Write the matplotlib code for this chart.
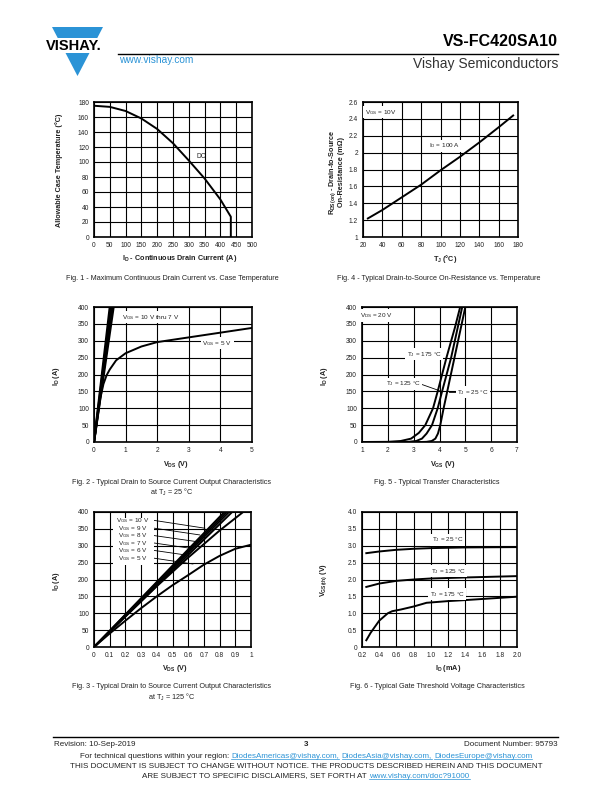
import matplotlib
matplotlib.use('Agg')
import matplotlib.pyplot as plt
from matplotlib.patches import Polygon, Rectangle
from matplotlib.lines import Line2D

plt.rcParams['font.family'] = ['Liberation Sans', 'DejaVu Sans']
plt.rcParams['mathtext.fontset'] = 'custom'
plt.rcParams['mathtext.rm'] = 'Liberation Sans'
plt.rcParams['mathtext.it'] = 'Liberation Sans:italic'
plt.rcParams['mathtext.bf'] = 'Liberation Sans:bold'

W, H = 612, 792
BLUE = '#2b93d6'
TXT = '#222222'

# Fig. 1 - max continuous drain current vs case temperature
f1_id = [0, 50, 100, 150, 200, 250, 300, 350, 400, 433, 433]
f1_tc = [175, 173.5, 168, 158, 144, 125, 102, 78, 50, 27, 0]

# Fig. 4 - on-resistance vs temperature
f4_tj = [25, 40, 60, 80, 100, 120, 140, 160, 175]
f4_rds = [1.22, 1.32, 1.47, 1.62, 1.79, 1.95, 2.12, 2.30, 2.44]

# Fig. 2 - output characteristics, TJ = 25 C
f2_vds_hi = [0, 0.50, 0.54, 0.58, 0.62]   # end points of 10 V .. 7 V lines
f2_vds_5v = [0, 0.1, 0.2, 0.3, 0.4, 0.5, 0.7, 1.0, 1.5, 2, 3, 4, 5]
f2_id_5v = [0, 65, 130, 172, 198, 215, 242, 263, 283, 296, 310, 324, 338]

# Fig. 5 - transfer characteristics
f5_v175 = [1, 2.0, 2.5, 2.9, 3.2, 3.45, 3.75, 3.93, 4.27, 4.6, 4.8]
f5_i175 = [0, 0.5, 3, 10, 27, 50, 100, 150, 250, 340, 400]
f5_v125 = [1, 2.5, 2.8, 3.1, 3.32, 3.5, 3.71, 3.93, 4.10, 4.45, 4.88]
f5_i125 = [0, 0, 0.5, 3, 10, 25, 50, 100, 150, 250, 400]
f5_v25 = [1, 3.3, 3.5, 3.7, 3.84, 3.94, 4.03, 4.16, 4.30, 4.58, 5.0]
f5_i25 = [0, 0, 0.5, 3, 10, 25, 50, 100, 150, 250, 400]

# Fig. 3 - output characteristics, TJ = 125 C
f3_vgs = ['10', '9', '8', '7', '6', '5']
f3_end_v = [0.83, 0.845, 0.86, 0.88]        # 10 V .. 7 V reach 400 A
f3_v6 = [0, 0.2, 0.4, 0.6, 0.8, 0.95]
f3_i6 = [0, 90, 180, 265, 345, 400]
f3_v5 = [0, 0.1, 0.2, 0.3, 0.4, 0.5, 0.6, 0.7, 0.8, 0.9, 1.0]
f3_i5 = [0, 40, 78, 115, 150, 183, 213, 244, 270, 291, 303]

# Fig. 6 - gate threshold voltage
f6_id25 = [0.25, 0.4, 0.6, 0.8, 1.0, 1.4, 2.0]
f6_v25 = [2.78, 2.83, 2.88, 2.91, 2.93, 2.95, 2.96]
f6_id125 = [0.25, 0.4, 0.6, 0.8, 1.0, 1.4, 2.0]
f6_v125 = [1.78, 1.88, 1.96, 2.0, 2.03, 2.06, 2.1]
f6_id175 = [0.25, 0.3, 0.4, 0.5, 0.55, 0.65, 0.8, 0.95, 1.2, 1.4, 2.0]
f6_v175 = [0.2, 0.42, 0.78, 1.0, 1.06, 1.11, 1.2, 1.31, 1.36, 1.39, 1.49]

fig = plt.figure(figsize=(W / 100, H / 100), dpi=100)


def fx(x):
    return x / W


def fy(y):
    return 1 - y / H


def ftext(x, y, s, **kw):
    kw.setdefault('fontsize', 5.2)
    kw.setdefault('color', TXT)
    kw.setdefault('ha', 'center')
    kw.setdefault('va', 'center')
    return fig.text(fx(x), fy(y), s, **kw)


def make_ax(x0, y0, x1, y1, xlim, ylim, xt, yt, xtl=None, ytl=None):
    ax = fig.add_axes([fx(x0), fy(y1), (x1 - x0) / W, (y1 - y0) / H])
    ax.set_xlim(xlim)
    ax.set_ylim(ylim)
    ax.set_xticks(xt)
    ax.set_yticks(yt)
    if xtl is not None:
        ax.set_xticklabels(xtl)
    if ytl is not None:
        ax.set_yticklabels(ytl)
    ax.tick_params(length=0, labelsize=4.8, labelcolor=TXT, pad=3.6)
    ax.grid(True, color='black', linewidth=0.8)
    for sp in ax.spines.values():
        sp.set_linewidth(1.2)
    return ax


def lbl(ax, x, y, s, **kw):
    kw.setdefault('fontsize', 4.6)
    return ax.text(x, y, s, ha='center', va='center', color=TXT,
                   bbox=dict(facecolor='white', edgecolor='none', pad=1.2), zorder=5, **kw)


LW = 1.4

# ---- Fig 1
ax1 = make_ax(94, 102, 252, 237, (0, 500), (0, 180), range(0, 501, 50), range(0, 181, 20))
ax1.plot(f1_id, f1_tc, color='black', lw=LW)
ax1.text(340, 107, 'DC', fontsize=4.8, ha='center', va='center', color=TXT)
ftext(180, 259, r'I$_\mathbf{D}$ - Continuous Drain Current (A)', fontweight='bold')
ftext(59, 170, 'Allowable Case Temperature (°C)', fontweight='bold', rotation=90)
ftext(172, 278, 'Fig. 1 - Maximum Continuous Drain Current vs. Case Temperature')

# ---- Fig 4
ax4 = make_ax(363, 102, 518, 237, (20, 180), (1, 2.6), range(20, 181, 20),
              [1, 1.2, 1.4, 1.6, 1.8, 2, 2.2, 2.4, 2.6],
              ytl=['1', '1.2', '1.4', '1.6', '1.8', '2', '2.2', '2.4', '2.6'])
ax4.plot(f4_tj, f4_rds, color='black', lw=LW)
lbl(ax4, 38, 2.48, r'V$_\mathrm{GS}$ = 10V')
lbl(ax4, 104, 2.08, r'I$_\mathrm{D}$ = 100 A')
ftext(445, 259, r'T$_\mathbf{J}$ (°C)', fontweight='bold')
ftext(336, 172, 'R$_\\mathbf{DS(on)}$ - Drain-to-Source\nOn-Resistance (mΩ)',
      fontweight='bold', rotation=90, linespacing=1.1)
ftext(439, 278, 'Fig. 4 - Typical Drain-to-Source On-Resistance vs. Temperature')

# ---- Fig 2
ax2 = make_ax(94, 307, 252, 442, (0, 5), (0, 400), range(0, 6), range(0, 401, 50))
for v in f2_vds_hi[1:]:
    ax2.plot([0, v], [0, 400], color='black', lw=1.6)
ax2.plot(f2_vds_5v, f2_id_5v, color='black', lw=LW)
lbl(ax2, 1.8, 370, r'V$_\mathrm{GS}$ = 10 V thru 7 V')
lbl(ax2, 3.9, 293, r'V$_\mathrm{GS}$ = 5 V')
ftext(176, 464, r'V$_\mathbf{DS}$ (V)', fontweight='bold')
ftext(57, 376, r'I$_\mathbf{D}$ (A)', fontweight='bold', rotation=90)
ftext(172, 482, 'Fig. 2 - Typical Drain to Source Current Output Characteristics')
ftext(172, 492, r'at T$_\mathrm{J}$ = 25 °C')

# ---- Fig 5
ax5 = make_ax(362, 307, 517, 442, (1, 7), (0, 400), range(1, 8), range(0, 401, 50))
ax5.plot(f5_v175, f5_i175, color='black', lw=LW)
ax5.plot(f5_v125, f5_i125, color='black', lw=LW)
ax5.plot(f5_v25, f5_i25, color='black', lw=LW)
lbl(ax5, 1.55, 375, r'V$_\mathrm{DS}$ = 20 V')
lbl(ax5, 3.4, 260, r'T$_\mathrm{J}$ = 175 °C')
ax5.plot([3.26, 4.0], [172, 152], color='black', lw=0.6, zorder=4)
lbl(ax5, 2.6, 172, r'T$_\mathrm{J}$ = 125 °C')
ax5.plot([4.35, 4.7], [147, 147], color='black', lw=0.6, zorder=4)
lbl(ax5, 5.3, 147, r'T$_\mathrm{J}$ = 25 °C')
ftext(443, 464, r'V$_\mathbf{GS}$ (V)', fontweight='bold')
ftext(324, 376, r'I$_\mathbf{D}$ (A)', fontweight='bold', rotation=90)
ftext(437, 482, 'Fig. 5 - Typical Transfer Characteristics')

# ---- Fig 3
ax3 = make_ax(94, 512, 251, 647, (0, 1), (0, 400), [i / 10 for i in range(11)], range(0, 401, 50),
              xtl=['0'] + ['0.%d' % i for i in range(1, 10)] + ['1'])
for v in f3_end_v:
    ax3.plot([0, v], [0, 400], color='black', lw=LW)
ax3.plot(f3_v6, f3_i6, color='black', lw=LW)
ax3.plot(f3_v5, f3_i5, color='black', lw=LW)
ax3.add_patch(Rectangle((0.12, 243), 0.26, 140, facecolor='white', edgecolor='none', zorder=4))
lab_y = [375, 352, 330, 308, 286, 263]
lead_end = [(0.706, 352), (0.674, 332), (0.642, 313), (0.606, 293), (0.578, 273), (0.63, 246)]
for g, y, (ex, ey) in zip(f3_vgs, lab_y, lead_end):
    ax3.text(0.245, y, r'V$_\mathrm{GS}$ = %s V' % g, fontsize=4.6, ha='center', va='center',
             color=TXT, zorder=5)
    ax3.plot([0.385, ex], [y, ey], color='black', lw=0.6, zorder=6)
ftext(175, 669, r'V$_\mathbf{DS}$ (V)', fontweight='bold')
ftext(57, 581, r'I$_\mathbf{D}$ (A)', fontweight='bold', rotation=90)
ftext(172, 687, 'Fig. 3 - Typical Drain to Source Current Output Characteristics')
ftext(172, 697, r'at T$_\mathrm{J}$ = 125 °C')

# ---- Fig 6
ax6 = make_ax(362, 512, 517, 647, (0.2, 2.0), (0, 4.0), [0.2 + 0.2 * i for i in range(10)],
              [0.5 * i for i in range(9)],
              xtl=['%.1f' % (0.2 + 0.2 * i) for i in range(10)],
              ytl=['0'] + ['%.1f' % (0.5 * i) for i in range(1, 9)])
ax6.plot(f6_id25, f6_v25, color='black', lw=LW)
ax6.plot(f6_id125, f6_v125, color='black', lw=LW)
ax6.plot(f6_id175, f6_v175, color='black', lw=LW)
lbl(ax6, 1.19, 3.18, r'T$_\mathrm{J}$ = 25 °C')
lbl(ax6, 1.2, 2.25, r'T$_\mathrm{J}$ = 125 °C')
lbl(ax6, 1.19, 1.56, r'T$_\mathrm{J}$ = 175 °C')
ftext(448, 669, r'I$_\mathbf{D}$ (mA)', fontweight='bold')
ftext(324, 580, r'V$_\mathbf{GS(th)}$ (V)', fontweight='bold', rotation=90)
ftext(437, 687, 'Fig. 6 - Typical Gate Threshold Voltage Characteristics')

# ---- header
fig.add_artist(Polygon([(fx(52), fy(27)), (fx(103), fy(27)), (fx(77.5), fy(76))],
                       closed=True, facecolor=BLUE, edgecolor='none', transform=fig.transFigure))
fig.add_artist(Rectangle((fx(40), fy(53)), 68 / W, 15 / H, facecolor='white', edgecolor='none',
                         transform=fig.transFigure))
ftext(74, 46, 'VISHAY.', fontsize=10.5, fontweight='bold', color='black')
fig.add_artist(Line2D([fx(118), fx(558)], [fy(54), fy(54)], color='black', lw=1.0,
                      transform=fig.transFigure))
ftext(558, 41, 'VS-FC420SA10', fontsize=11.5, fontweight='bold', ha='right', color='black')
ftext(558, 64, 'Vishay Semiconductors', fontsize=10, ha='right', color='#333333')
ftext(119, 60, 'www.vishay.com', fontsize=7.3, ha='left', color=BLUE)

# ---- footer
fig.add_artist(Line2D([fx(53), fx(558)], [fy(737), fy(737)], color='black', lw=1.0,
                      transform=fig.transFigure))
FS = 5.8
ftext(54, 744, 'Revision: 10-Sep-2019', fontsize=FS, ha='left')
ftext(306, 744, '3', fontsize=FS, fontweight='bold')
ftext(558, 744, 'Document Number: 95793', fontsize=FS, ha='right')

renderer = fig.canvas.get_renderer()


def run_text(xc, y, parts):
    # parts: (text, colour, underline); spaces kept outside parts
    arts = []
    for s, c, u in parts:
        t = fig.text(0, fy(y), s, fontsize=FS, color=c, ha='left', va='center')
        arts.append((t, u))
    sp = fig.text(0, 0, 'x x', fontsize=FS).get_window_extent(renderer).width - \
        fig.text(0, 0, 'xx', fontsize=FS).get_window_extent(renderer).width
    for t in fig.texts[-2:]:
        t.remove()
    widths = [t.get_window_extent(renderer).width for t, u in arts]
    total = sum(widths) + sp * (len(arts) - 1)
    x = xc - total / 2
    for (t, u), w in zip(arts, widths):
        t.set_x(fx(x))
        if u:
            fig.add_artist(Line2D([fx(x), fx(x + w)], [fy(y + 3.2), fy(y + 3.2)], color=BLUE,
                                  lw=0.5, transform=fig.transFigure))
        x += w + sp


run_text(306, 756, [('For technical questions within your region:', TXT, False),
                    ('DiodesAmericas@vishay.com,', BLUE, True),
                    ('DiodesAsia@vishay.com,', BLUE, True),
                    ('DiodesEurope@vishay.com', BLUE, True)])
ftext(306, 767, 'THIS DOCUMENT IS SUBJECT TO CHANGE WITHOUT NOTICE. THE PRODUCTS DESCRIBED HEREIN AND THIS DOCUMENT',
      fontsize=FS)
run_text(306, 776, [('ARE SUBJECT TO SPECIFIC DISCLAIMERS, SET FORTH AT', TXT, False),
                    ('www.vishay.com/doc?91000', BLUE, True)])

fig.savefig('out.png', dpi=100)
